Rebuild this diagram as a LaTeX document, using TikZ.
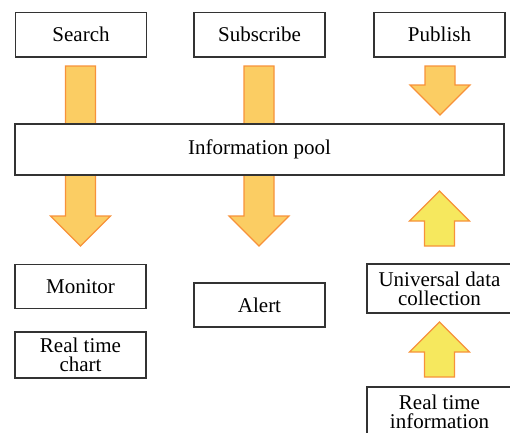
\documentclass[tikz,border=0pt]{standalone}
\usepackage{fontspec}
\setmainfont{Liberation Serif}
\usetikzlibrary{calc}
\definecolor{boxline}{HTML}{333333}
\definecolor{arrowfill}{HTML}{FBCD63}
\definecolor{arrowedge}{HTML}{F7923A}
\definecolor{upfill}{HTML}{F6E85E}
\tikzset{
  box/.style={draw=boxline, line width=1.2pt, fill=white, minimum width=131pt,
    minimum height=44.5pt, inner sep=0pt, align=center,
    font=\fontsize{21}{19}\selectfont},
  downarrow/.style={draw=arrowedge, line width=1.1pt, fill=arrowfill, line join=miter},
  uparrow/.style={draw=arrowedge, line width=1.1pt, fill=upfill, line join=miter},
}
% block arrow along x = #1, shaft end #2, head base #3, tip #4 (all y values)
\newcommand{\blockarrow}[5]{%
  \draw[#1] ($(#2)+(-15pt,0)$) |- ($(#3)+(-15pt,0)$) -- ($(#3)+(-30pt,0)$) -- (#4)
    -- ($(#3)+(30pt,0)$) -- ($(#3)+(15pt,0)$) -- ($(#2)+(15pt,0)$) -- cycle;}
\begin{document}
\begin{tikzpicture}[x=1pt, y=-1pt]
\useasboundingbox (0,0) rectangle (510,432);

% top row
\node[box] (search) at (81,34.75) {Search};
\node[box] (subscribe) at (259.5,34.75) {Subscribe};
\node[box] (publish) at (439.5,34.75) {Publish};

% arrow shafts pass behind the pool, so draw them first
\coordinate (sTop) at (80.5,66);  \coordinate (sBase) at (80.5,216);  \coordinate (sTip) at (80.5,246);
\coordinate (bTop) at (259,66);   \coordinate (bBase) at (259,216);   \coordinate (bTip) at (259,246);
\coordinate (pTop) at (440,66);   \coordinate (pBase) at (440,85);    \coordinate (pTip) at (440,115);
\blockarrow{downarrow}{sTop}{sBase}{sTip}{}
\blockarrow{downarrow}{bTop}{bBase}{bTip}{}
\blockarrow{downarrow}{pTop}{pBase}{pTip}{}

\node[box, minimum width=489pt, minimum height=51pt] (pool) at (259.5,149.5) {Information pool};

% lower row
\node[box] (monitor) at (80.5,286.5) {Monitor};
\node[box, minimum height=44pt] (alert) at (259.5,305) {Alert};
\node[box, minimum width=145pt, minimum height=49pt] (udc) at (439.5,288.5) {Universal data\\collection};
\node[box, minimum height=46pt] (rtc) at (80.5,355) {Real time\\chart};
\node[box, minimum width=145pt, minimum height=49pt] (rti) at (439.5,411.5) {Real time\\information};

% upward arrows feeding the pool
\coordinate (u1Top) at (439.5,246); \coordinate (u1Base) at (439.5,221); \coordinate (u1Tip) at (439.5,191);
\coordinate (u2Top) at (439.5,377); \coordinate (u2Base) at (439.5,352); \coordinate (u2Tip) at (439.5,322);
\blockarrow{uparrow}{u1Top}{u1Base}{u1Tip}{}
\blockarrow{uparrow}{u2Top}{u2Base}{u2Tip}{}
\end{tikzpicture}
\end{document}
